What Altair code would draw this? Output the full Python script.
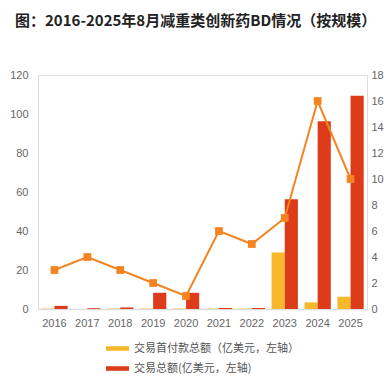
import altair as alt
import pandas as pd

years = ["2016", "2017", "2018", "2019", "2020", "2021", "2022", "2023", "2024", "2025"]
upfront = [0.2, 0.0, 0.2, 0.2, 0.2, 0.2, 0.2, 29.0, 3.4, 6.3]       # 交易首付款总额（亿美元）
total = [1.6, 0.4, 0.8, 8.3, 8.3, 0.5, 0.5, 56.3, 96.3, 109.4]      # 交易总额（亿美元）
counts = [3, 4, 3, 2, 1, 6, 5, 7, 16, 10]                           # 交易数量（个）

s_up = "交易首付款总额（亿美元，左轴）"
s_tot = "交易总额(亿美元，左轴)"
s_cnt = "交易数量（个，右轴）"

bars = pd.DataFrame(
    [{"year": y, "series": s_up, "value": v} for y, v in zip(years, upfront)]
    + [{"year": y, "series": s_tot, "value": v} for y, v in zip(years, total)]
)
line_df = pd.DataFrame({"year": years, "count": counts, "series": [s_cnt] * len(years)})

FONT = "Noto Sans CJK SC"
NUMFONT = "Liberation Sans"
YEL = "#F7B92B"
RED = "#DC3C1A"
ORG = "#F5831F"

x_enc = alt.X(
    "year:N",
    sort=years,
    title=None,
    scale=alt.Scale(paddingInner=0.2, paddingOuter=0.1),
    axis=alt.Axis(labelAngle=0, labelFont=NUMFONT, labelFontSize=11, labelColor="#666",
                  labelPadding=8, ticks=False, domainColor="#DDDDDD", domainWidth=1.5),
)

bar_layer = alt.Chart(bars).mark_bar().encode(
    x=x_enc,
    xOffset=alt.XOffset("series:N", sort=[s_up, s_tot], scale=alt.Scale(paddingInner=0)),
    y=alt.Y("value:Q", title=None,
            scale=alt.Scale(domain=[0, 120], nice=False),
            axis=alt.Axis(values=[0, 20, 40, 60, 80, 100, 120], grid=False, ticks=False, domain=False,
                          labelFont=NUMFONT, labelFontSize=11, labelColor="#666", labelPadding=10)),
    color=alt.Color("series:N", sort=[s_up, s_tot],
                    scale=alt.Scale(domain=[s_up, s_tot], range=[YEL, RED]),
                    legend=alt.Legend(title=None, orient="none", legendX=73, legendY=267,
                                      symbolType="M-2,-0.4L2,-0.4L2,0.4L-2,0.4Z", symbolSize=132,
                                      labelFont=FONT, labelFontSize=11, labelColor="#555",
                                      labelLimit=400, labelOffset=10, rowPadding=8, padding=0)),
)

y_right = alt.Y("count:Q", title=None,
                scale=alt.Scale(domain=[0, 18], nice=False),
                axis=alt.Axis(orient="right", values=list(range(0, 19, 2)), grid=False, ticks=False,
                              domain=False, labelFont=NUMFONT, labelFontSize=11, labelColor="#666",
                              labelPadding=4))

line_layer = alt.Chart(line_df).mark_line(color=ORG, strokeWidth=2).encode(
    x=alt.X("year:N", sort=years), y=y_right
)
pt_layer = alt.Chart(line_df).mark_point(filled=True, color=ORG, size=60, opacity=1).encode(
    x=alt.X("year:N", sort=years),
    y=y_right,
    shape=alt.Shape("series:N", scale=alt.Scale(range=["square"]),
                    legend=alt.Legend(title=None, orient="none", legendX=74, legendY=306,
                                      symbolFillColor=ORG, symbolStrokeColor=ORG, symbolSize=60,
                                      labelFont=FONT, labelFontSize=11, labelColor="#555",
                                      labelLimit=400, labelOffset=14, padding=0)),
)

right = alt.layer(line_layer, pt_layer)

chart = alt.layer(bar_layer, right).resolve_scale(y="independent", shape="independent").properties(
    width=329,
    height=234,
    autosize=alt.AutoSizeParams(type="none"),
    padding={"left": 30, "top": 67, "right": 17, "bottom": 69},
    title=alt.TitleParams(
        "图：2016-2025年8月减重类创新药BD情况（按规模）",
        anchor="start", frame="group", dx=-23, offset=40, font=FONT, fontSize=15,
        fontWeight="bold", color="#222",
    ),
).configure_view(stroke=None).configure(background="white")

chart.save("out.html", embed_options={"renderer": "svg", "actions": False})
